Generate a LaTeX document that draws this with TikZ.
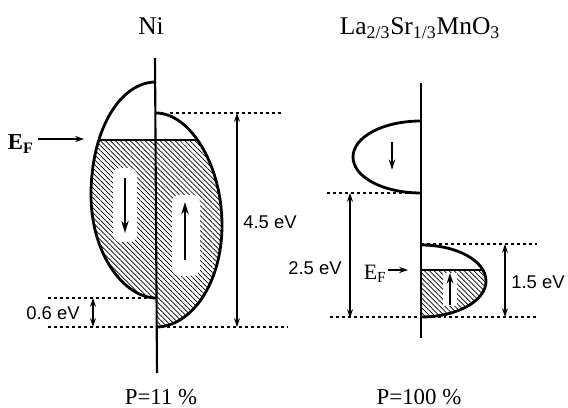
\documentclass[tikz,border=0pt]{standalone}
\usepackage{fontspec}
\setmainfont{Liberation Serif}
\newfontfamily\evfont{Liberation Sans}
\usetikzlibrary{arrows.meta,patterns.meta}
\tikzstyle{axisline}=[line width=1.2pt]
\tikzstyle{lobe}=[line width=1.6pt]
\tikzstyle{hatch}=[pattern={Lines[angle=-45,distance=2pt,line width=0.4pt]}]
\tikzstyle{guide}=[dash pattern=on 1.7pt off 1.7pt, line width=0.8pt]
\tikzstyle{dimline}=[<->, line width=0.8pt]
\tikzstyle{spin}=[-{Stealth[length=7pt,width=4.2pt]}, line width=1.2pt]
\tikzstyle{efarrow}=[-{Stealth[length=5pt,width=3.5pt]}, line width=0.9pt]
\tikzstyle{evlabel}=[font=\evfont\fontsize{10.5}{12}\selectfont, inner sep=0pt]
\tikzstyle{title}=[font=\fontsize{14.5}{16}\selectfont, inner sep=0pt, anchor=base]
\tikzstyle{pol}=[font=\fontsize{13}{15}\selectfont, inner sep=0pt, anchor=base]
\tikzstyle{hole}=[fill=white, rounded corners=4pt]

% band outlines (pixel units)
\def\NiDown{(156,82) .. controls (120,82) and (91,130) .. (91,195) .. controls (91,255) and (125,298) .. (156,298)}
\def\NiUp{(156,113) .. controls (190,113) and (222,165) .. (222,225) .. controls (222,285) and (190,327) .. (156,327)}
\def\LsDown{(421,121) .. controls (383,121) and (353,137) .. (353,157) .. controls (353,177) and (383,193) .. (421,193)}
\def\LsUp{(421,245) .. controls (457,245) and (486,261) .. (486,281) .. controls (486,301) and (457,317) .. (421,317)}

\begin{document}
\begin{tikzpicture}[x=0.02cm,y=-0.02cm,>={Stealth[length=5pt,width=3.4pt]}]
\useasboundingbox (0,0) rectangle (568,408);

% titles
\node[title] (ni) at (151,35) {Ni};
\node[title] (lsmo) at (420,35) {La\textsubscript{2/3}Sr\textsubscript{1/3}MnO\textsubscript{3}};
\node[pol] (pni) at (161,405) {P=11 \%};
\node[pol] (plsmo) at (419,405) {P=100 \%};

% Ni
\begin{scope}
\clip (0,140) rectangle (300,400);
\fill[hatch] \NiDown -- cycle;
\fill[hatch] \NiUp -- cycle;
\end{scope}
\fill[hole] (113,168) rectangle (137,242);
\fill[hole] (172,195) rectangle (200,276);
\coordinate (dnTail) at (125,178);
\coordinate (dnHead) at (125,233);
\draw[spin] (dnTail) -- (dnHead);
\coordinate (upTail) at (185,260);
\coordinate (upHead) at (185,202);
\draw[spin] (upTail) -- (upHead);
\draw[lobe] \NiDown;
\draw[lobe] \NiUp;
\draw[lobe] (98.5,140) -- (197,140);
\coordinate (niTop) at (155,58);
\coordinate (niBot) at (157,373);
\draw[axisline] (niTop) -- (niBot);

\node[anchor=east, font=\bfseries\fontsize{13}{14}\selectfont, inner sep=0pt] (efni) at (34,144) {E\textsubscript{F}};
\coordinate (efniTip) at (84,139);
\draw[efarrow] (efni.east |- efniTip) ++(4,0) -- (efniTip);

\draw[guide] (170,113) -- (283,113);
\draw[guide] (48,327) -- (288,327);
\draw[guide] (48,298) -- (150,298);

\coordinate (a45t) at (237,113);
\coordinate (a45b) at (237,327);
\draw[dimline] (a45t) -- (a45b);
\node[evlabel, anchor=west] (l45) at (243,222) {4.5 eV};
\coordinate (a06t) at (93,298);
\coordinate (a06b) at (93,327);
\draw[dimline] (a06t) -- (a06b);
\node[evlabel, anchor=east] (l06) at (80,313) {0.6 eV};

% La2/3Sr1/3MnO3
\begin{scope}
\clip (300,270) rectangle (560,400);
\fill[hatch] \LsUp -- cycle;
\end{scope}
\coordinate (lsdnTail) at (392,142);
\coordinate (lsdnHead) at (392,170);
\draw[-{Stealth[length=6pt,width=3.6pt]}, line width=1.1pt] (lsdnTail) -- (lsdnHead);
\fill[white] (443,273) rectangle (457,306);
\coordinate (lsupTail) at (450,305);
\coordinate (lsupHead) at (450,273);
\draw[-{Stealth[length=6pt,width=3.8pt]}, line width=1.4pt] (lsupTail) -- (lsupHead);
\draw[lobe] \LsDown;
\draw[lobe] \LsUp;
\draw[lobe] (421,270) -- (482.7,270);
\coordinate (lsTop) at (421,83);
\coordinate (lsBot) at (421,338);
\draw[axisline] (lsTop) -- (lsBot);

\node[anchor=east, font=\fontsize{12.5}{14}\selectfont, inner sep=0pt] (efls) at (387,274) {E\textsubscript{F}};
\coordinate (eflsTip) at (408,270);
\draw[efarrow] (efls.east |- eflsTip) ++(1,0) -- (eflsTip);

\draw[guide] (327,193) -- (421,193);
\draw[guide] (421,244) -- (538,244);
\draw[guide] (330,317) -- (538,317);

\coordinate (a25t) at (350,193);
\coordinate (a25b) at (350,318);
\draw[dimline] (a25t) -- (a25b);
\node[evlabel, anchor=east] (l25) at (342,268) {2.5 eV};
\coordinate (a15t) at (505,244);
\coordinate (a15b) at (505,317);
\draw[dimline] (a15t) -- (a15b);
\node[evlabel, anchor=west] (l15) at (511,282) {1.5 eV};
\end{tikzpicture}
\end{document}
